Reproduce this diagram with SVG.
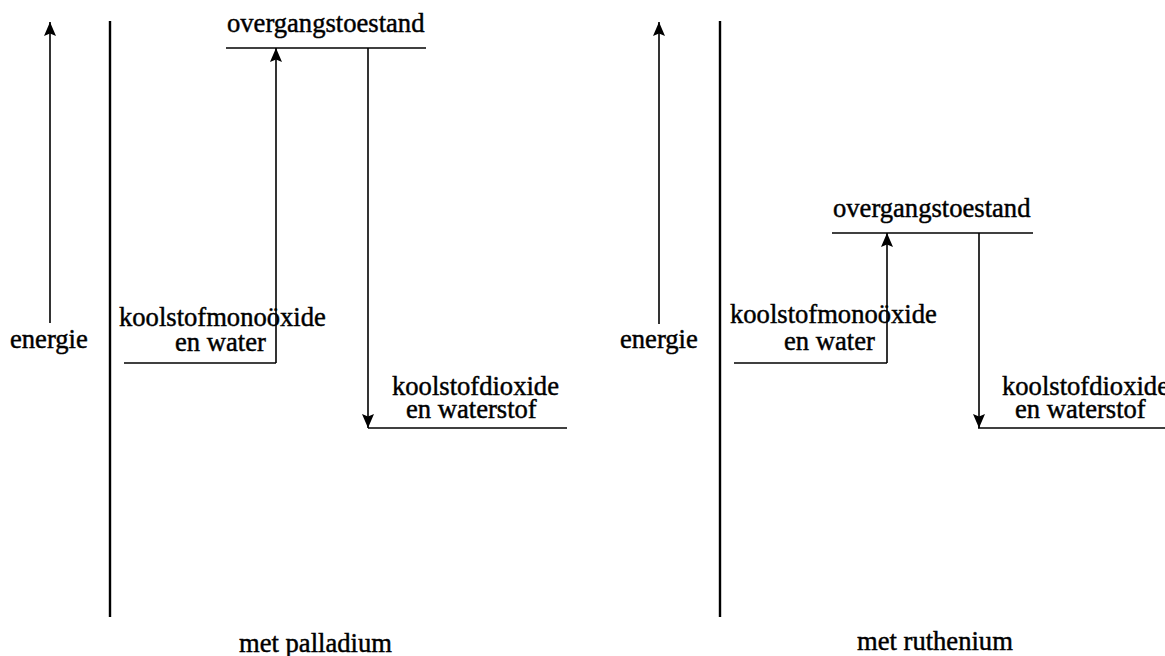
<svg xmlns="http://www.w3.org/2000/svg" width="1165" height="656" viewBox="0 0 1165 656">
<style>
.t{font-family:"Liberation Serif","Times New Roman",serif;font-size:26.6px;fill:#000;stroke:#000;stroke-width:0.45px}
.ln{stroke:#000;stroke-width:1.6;fill:none}
.ax{stroke:#000;stroke-width:2.4;fill:none}
</style>
<defs>
<marker id="ah" viewBox="0 0 14 12" refX="14" refY="6" markerWidth="14" markerHeight="12" markerUnits="userSpaceOnUse" orient="auto">
<path d="M0,0 L14,6 L0,12 L2.5,6 Z" fill="#000"/>
</marker>
</defs>
<rect width="1165" height="656" fill="#fff"/>

<g id="palladium">
<g id="p-axis"><line class="ax" x1="110" y1="21" x2="110" y2="617"/></g>
<g id="p-energie"><text class="t" x="10" y="348">energie</text></g>
<g id="p-ts">
<line class="ln" x1="226" y1="48" x2="426" y2="48"/>
<text class="t" x="227" y="32">overgangstoestand</text>
</g>
<g id="p-react">
<line class="ln" x1="124" y1="363" x2="276" y2="363"/>
<text class="t" x="119" y="326">koolstofmonoöxide</text>
<text class="t" x="175" y="351">en water</text>
</g>
<g id="p-prod">
<line class="ln" x1="368" y1="428" x2="567" y2="428"/>
<text class="t" x="392" y="395">koolstofdioxide</text>
<text class="t" x="406" y="418">en waterstof</text>
</g>
<g id="p-label"><text class="t" x="239" y="652">met palladium</text></g>
</g>

<g id="ruthenium">
<g id="r-axis"><line class="ax" x1="720" y1="21" x2="720" y2="617"/></g>
<g id="r-energie"><text class="t" x="620" y="348">energie</text></g>
<g id="r-ts">
<line class="ln" x1="832" y1="233" x2="1033" y2="233"/>
<text class="t" x="833" y="217">overgangstoestand</text>
</g>
<g id="r-react">
<line class="ln" x1="734" y1="363" x2="887" y2="363"/>
<text class="t" x="730" y="323">koolstofmonoöxide</text>
<text class="t" x="784" y="350">en water</text>
</g>
<g id="r-prod">
<line class="ln" x1="978" y1="428" x2="1165" y2="428"/>
<text class="t" x="1002" y="395">koolstofdioxide</text>
<text class="t" x="1015" y="418">en waterstof</text>
</g>
<g id="r-label"><text class="t" x="857" y="650">met ruthenium</text></g>
</g>

<g id="connectors">
<line class="ln" x1="50" y1="323" x2="50" y2="22" marker-end="url(#ah)"/>
<line class="ln" x1="276" y1="363" x2="276" y2="48" marker-end="url(#ah)"/>
<line class="ln" x1="368" y1="48" x2="368" y2="428" marker-end="url(#ah)"/>
<line class="ln" x1="659" y1="324" x2="659" y2="22" marker-end="url(#ah)"/>
<line class="ln" x1="887" y1="363" x2="887" y2="233" marker-end="url(#ah)"/>
<line class="ln" x1="979" y1="233" x2="979" y2="428" marker-end="url(#ah)"/>
</g>
</svg>
